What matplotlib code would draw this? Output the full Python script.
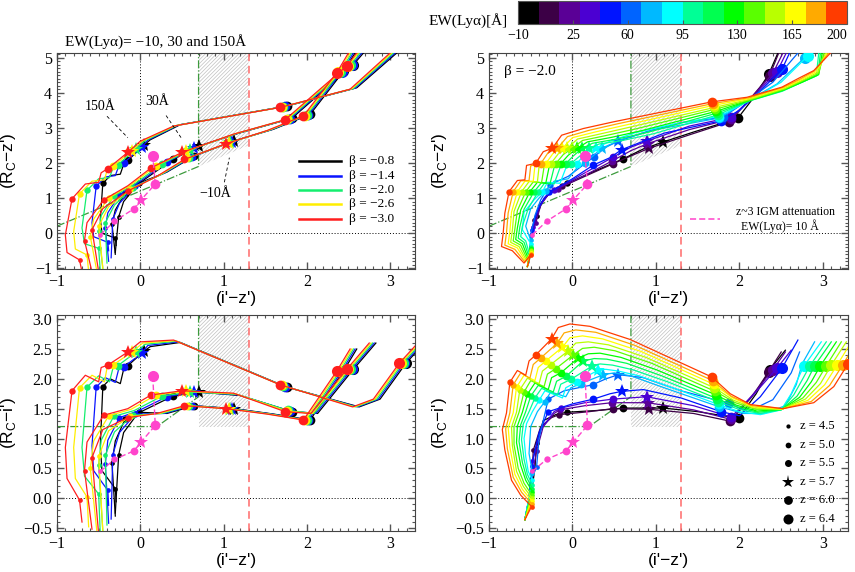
import numpy as np
import matplotlib
matplotlib.use("Agg")
import matplotlib.pyplot as plt
from matplotlib.colors import ListedColormap, Normalize
from matplotlib.cm import ScalarMappable
from matplotlib.ticker import MultipleLocator

plt.rcParams['font.family'] = ['Liberation Serif', 'DejaVu Serif']
plt.rcParams['mathtext.fontset'] = 'custom'
plt.rcParams['mathtext.rm'] = 'Liberation Sans'
plt.rcParams['hatch.linewidth'] = 0.5

# ---------------- data ----------------
z_names = ['4.5', '5.0', '5.5', '5.7', '6.0', '6.4']
beta_names = ['−0.8', '−1.4', '−2.0', '−2.6', '−3.0']
ew_ticks = [-10, 25, 60, 95, 130, 165, 200]

# z~3 IGM attenuation, EW(Lya)=10A, at z = 4.5 ... 6.4
igm_iz = [-0.48, -0.31, -0.08, 0.01, 0.18, 0.15]
igm_rz = [-0.05, 0.34, 0.69, 0.95, 1.40, 2.20]
igm_ri = [0.45, 0.65, 0.79, 0.94, 1.22, 2.04]

# top left: (i'-z', Rc-z') for beta = -0.8, -1.4, -2.0, -2.6, -3.0
tl150_x = [[-0.29, -0.30, -0.46, -0.48, -0.45, -0.36, -0.24, -0.20, -0.15, 0.05, 0.12, 0.48, 1.76, 2.60, 3.08],
           [-0.38, -0.39, -0.56, -0.58, -0.53, -0.42, -0.30, -0.26, -0.20, 0.02, 0.09, 0.46, 1.74, 2.58, 3.06],
           [-0.48, -0.50, -0.67, -0.70, -0.64, -0.50, -0.37, -0.33, -0.27, -0.05, 0.06, 0.44, 1.72, 2.56, 3.04],
           [-0.62, -0.64, -0.78, -0.80, -0.73, -0.58, -0.43, -0.40, -0.33, -0.10, 0.03, 0.42, 1.70, 2.54, 3.02],
           [-0.70, -0.73, -0.88, -0.90, -0.82, -0.66, -0.50, -0.47, -0.39, -0.15, 0.00, 0.40, 1.68, 2.52, 3.00]]
tl150_y = [[-0.35, -0.14, 0.00, 0.40, 1.42, 1.64, 1.68, 1.96, 2.07, 2.52, 2.66, 3.09, 3.62, 4.14, 5.13],
           [-0.50, -0.26, -0.10, 0.30, 1.33, 1.60, 1.64, 1.90, 2.00, 2.45, 2.65, 3.08, 3.61, 4.13, 5.13],
           [-1.10, -0.43, -0.30, 0.15, 1.22, 1.55, 1.58, 1.84, 1.95, 2.40, 2.64, 3.07, 3.60, 4.12, 5.13],
           [-1.10, -0.62, -0.45, 0.05, 1.12, 1.48, 1.52, 1.78, 1.90, 2.35, 2.63, 3.06, 3.59, 4.11, 5.13],
           [-1.10, -0.76, -0.55, -0.05, 0.98, 1.40, 1.45, 1.72, 1.84, 2.30, 2.62, 3.05, 3.58, 4.10, 5.13]]
tl150_zi = [1, 4, 8, 9, 12, -1]

tl30_x = [[-0.30, -0.34, -0.30, -0.18, 0.01, 0.39, 0.70, 1.20, 1.82, 2.18, 2.56, 2.68],
          [-0.38, -0.42, -0.39, -0.25, -0.03, 0.32, 0.64, 1.18, 1.80, 2.16, 2.54, 2.66],
          [-0.45, -0.50, -0.47, -0.32, -0.07, 0.26, 0.60, 1.16, 1.78, 2.14, 2.52, 2.64],
          [-0.52, -0.60, -0.56, -0.38, -0.11, 0.19, 0.55, 1.14, 1.76, 2.12, 2.50, 2.62],
          [-0.58, -0.67, -0.64, -0.44, -0.15, 0.13, 0.50, 1.12, 1.74, 2.10, 2.48, 2.60]]
tl30_y = [[-0.60, 0.25, 0.66, 1.15, 1.46, 2.10, 2.48, 2.86, 3.27, 4.02, 4.80, 5.13],
          [-0.80, 0.15, 0.58, 1.10, 1.43, 2.02, 2.42, 2.85, 3.26, 4.01, 4.79, 5.13],
          [-1.00, 0.05, 0.50, 1.05, 1.40, 1.97, 2.38, 2.84, 3.25, 4.00, 4.78, 5.13],
          [-1.10, -0.10, 0.40, 1.00, 1.38, 1.92, 2.34, 2.83, 3.24, 3.99, 4.77, 5.13],
          [-1.10, -0.21, 0.30, 0.95, 1.35, 1.86, 2.30, 2.82, 3.23, 3.98, 4.76, 5.13]]
tl30_zi = [1, 3, 5, 6, 8, 10]

tlm10_x = [[-0.30, -0.26, -0.20, -0.02, 0.32, 0.65, 1.13, 1.60, 2.04, 2.44, 2.58],
           [-0.35, -0.33, -0.25, -0.06, 0.29, 0.62, 1.10, 1.58, 2.02, 2.42, 2.56],
           [-0.40, -0.42, -0.31, -0.09, 0.26, 0.59, 1.08, 1.56, 2.00, 2.40, 2.54],
           [-0.45, -0.50, -0.38, -0.12, 0.23, 0.56, 1.06, 1.54, 1.98, 2.38, 2.52],
           [-0.50, -0.58, -0.45, -0.15, 0.20, 0.53, 1.03, 1.52, 1.96, 2.36, 2.50]]
tlm10_y = [[-0.55, 0.46, 0.90, 1.42, 1.74, 2.20, 2.63, 2.96, 3.38, 4.61, 5.13],
           [-0.70, 0.40, 0.85, 1.35, 1.71, 2.17, 2.61, 2.95, 3.37, 4.60, 5.13],
           [-0.85, 0.30, 0.80, 1.30, 1.68, 2.15, 2.59, 2.94, 3.36, 4.59, 5.13],
           [-1.00, 0.20, 0.75, 1.25, 1.65, 2.13, 2.57, 2.93, 3.35, 4.58, 5.13],
           [-1.10, 0.10, 0.70, 1.20, 1.62, 2.10, 2.55, 2.92, 3.34, 4.57, 5.13]]
tlm10_zi = [1, 3, 5, 6, 8, 9]

# bottom left: (i'-z', Rc-i')
bl150_x = [[-0.29, -0.30, -0.46, -0.48, -0.45, -0.36, -0.24, -0.20, -0.15, 0.05, 0.12, 0.48, 1.76, 2.63, 2.88, 3.19, 3.38],
           [-0.38, -0.39, -0.56, -0.58, -0.53, -0.42, -0.30, -0.26, -0.20, 0.02, 0.09, 0.46, 1.74, 2.61, 2.86, 3.17, 3.36],
           [-0.48, -0.50, -0.67, -0.70, -0.64, -0.50, -0.37, -0.33, -0.27, -0.05, 0.06, 0.44, 1.72, 2.59, 2.84, 3.15, 3.34],
           [-0.62, -0.64, -0.78, -0.80, -0.73, -0.58, -0.43, -0.40, -0.33, -0.10, 0.03, 0.42, 1.70, 2.57, 2.82, 3.13, 3.32],
           [-0.70, -0.73, -0.88, -0.90, -0.82, -0.66, -0.50, -0.47, -0.39, -0.15, 0.00, 0.40, 1.68, 2.55, 2.80, 3.11, 3.30]]
bl150_y = [[-0.06, 0.16, 0.46, 0.88, 1.87, 2.00, 1.92, 2.16, 2.22, 2.47, 2.54, 2.61, 1.86, 1.53, 1.66, 2.26, 2.55],
           [-0.12, 0.13, 0.46, 0.88, 1.86, 2.02, 1.94, 2.16, 2.20, 2.43, 2.56, 2.62, 1.87, 1.53, 1.66, 2.26, 2.55],
           [-0.62, 0.07, 0.37, 0.85, 1.86, 2.05, 1.95, 2.17, 2.22, 2.45, 2.58, 2.63, 1.88, 1.53, 1.66, 2.26, 2.55],
           [-0.48, 0.02, 0.33, 0.85, 1.85, 2.06, 1.95, 2.18, 2.23, 2.45, 2.60, 2.64, 1.89, 1.53, 1.66, 2.26, 2.55],
           [-0.40, -0.03, 0.33, 0.85, 1.80, 2.06, 1.95, 2.19, 2.23, 2.45, 2.62, 2.65, 1.90, 1.53, 1.66, 2.26, 2.55]]
bl150_zi = [1, 4, 8, 9, 12, 15]

bl30_x = [[-0.30, -0.34, -0.30, -0.18, 0.01, 0.39, 0.70, 1.20, 1.82, 2.13, 2.56, 2.83],
          [-0.38, -0.42, -0.39, -0.25, -0.03, 0.32, 0.64, 1.18, 1.80, 2.11, 2.54, 2.81],
          [-0.45, -0.50, -0.47, -0.32, -0.07, 0.26, 0.60, 1.16, 1.78, 2.09, 2.52, 2.79],
          [-0.52, -0.60, -0.56, -0.38, -0.11, 0.19, 0.55, 1.14, 1.76, 2.07, 2.50, 2.77],
          [-0.58, -0.67, -0.64, -0.44, -0.15, 0.13, 0.50, 1.12, 1.74, 2.05, 2.48, 2.75]]
bl30_y = [[-0.30, 0.59, 0.96, 1.33, 1.45, 1.71, 1.78, 1.72, 1.45, 1.42, 2.16, 2.60],
          [-0.42, 0.57, 0.97, 1.35, 1.46, 1.70, 1.78, 1.73, 1.46, 1.42, 2.16, 2.60],
          [-0.55, 0.55, 0.97, 1.37, 1.47, 1.71, 1.78, 1.74, 1.47, 1.42, 2.16, 2.60],
          [-0.58, 0.50, 0.96, 1.38, 1.49, 1.73, 1.79, 1.75, 1.46, 1.42, 2.16, 2.60],
          [-0.52, 0.46, 0.94, 1.39, 1.50, 1.73, 1.80, 1.76, 1.45, 1.42, 2.16, 2.60]]
bl30_zi = [1, 3, 5, 6, 8, 10]

blm10_x = [[-0.30, -0.26, -0.20, -0.02, 0.32, 0.65, 1.13, 1.60, 2.04, 2.44, 2.60],
           [-0.35, -0.33, -0.25, -0.06, 0.29, 0.62, 1.10, 1.58, 2.02, 2.42, 2.58],
           [-0.40, -0.42, -0.31, -0.09, 0.26, 0.59, 1.08, 1.56, 2.00, 2.40, 2.56],
           [-0.45, -0.50, -0.38, -0.12, 0.23, 0.56, 1.06, 1.54, 1.98, 2.38, 2.54],
           [-0.50, -0.58, -0.45, -0.15, 0.20, 0.53, 1.03, 1.52, 1.96, 2.36, 2.52]]
blm10_y = [[-0.25, 0.72, 1.10, 1.44, 1.42, 1.55, 1.50, 1.41, 1.31, 2.13, 2.50],
           [-0.35, 0.73, 1.10, 1.41, 1.42, 1.55, 1.50, 1.41, 1.31, 2.13, 2.50],
           [-0.45, 0.72, 1.11, 1.39, 1.42, 1.55, 1.50, 1.41, 1.31, 2.13, 2.50],
           [-0.55, 0.70, 1.13, 1.37, 1.42, 1.55, 1.50, 1.41, 1.31, 2.13, 2.50],
           [-0.60, 0.68, 1.15, 1.35, 1.42, 1.55, 1.50, 1.41, 1.31, 2.13, 2.50]]
blm10_zi = [1, 3, 5, 6, 8, 9]

# top right: beta=-2.0, 16 EW(Lya) values from -10 (k=0) to 200 (k=15), (i'-z', Rc-z')
tr_x = [[-0.53, -0.48, -0.43, -0.36, -0.25, -0.06, 0.20, 0.61, 0.85, 1.09, 1.45, 1.98, 2.15, 2.35, 2.46],
        [-0.53, -0.48, -0.46, -0.38, -0.28, -0.12, 0.15, 0.49, 0.70, 0.92, 1.40, 1.88, 2.10, 2.36, 2.47],
        [-0.53, -0.49, -0.44, -0.38, -0.29, -0.17, 0.15, 0.47, 0.70, 0.90, 1.40, 1.90, 2.12, 2.40, 2.52],
        [-0.53, -0.49, -0.47, -0.40, -0.31, -0.22, 0.15, 0.49, 0.70, 0.89, 1.40, 1.90, 2.15, 2.45, 2.56],
        [-0.53, -0.50, -0.49, -0.42, -0.34, -0.28, 0.00, 0.25, 0.45, 0.59, 1.10, 1.78, 2.00, 2.25, 2.51, 2.60],
        [-0.53, -0.50, -0.50, -0.45, -0.38, -0.27, -0.05, 0.26, 0.40, 0.55, 0.90, 1.30, 1.80, 2.05, 2.40, 2.70],
        [-0.53, -0.50, -0.50, -0.56, -0.50, -0.40, -0.32, -0.22, -0.05, 0.05, 0.15, 0.35, 0.60, 1.00, 1.76, 2.05, 2.45, 2.78, 2.82],
        [-0.53, -0.50, -0.50, -0.60, -0.58, -0.46, -0.36, -0.30, -0.15, -0.08, 0.05, 0.15, 0.28, 0.45, 0.75, 1.20, 1.75, 2.10, 2.50, 2.82, 2.88],
        [-0.54, -0.50, -0.51, -0.56, -0.62, -0.60, -0.53, -0.41, -0.33, -0.22, -0.15, -0.02, 0.08, 0.20, 0.32, 0.60, 0.97, 1.74, 2.11, 2.51, 2.75, 2.92, 2.95],
        [-0.54, -0.50, -0.52, -0.58, -0.65, -0.63, -0.58, -0.46, -0.37, -0.27, -0.22, -0.08, 0.01, 0.12, 0.24, 0.53, 0.90, 1.73, 2.12, 2.52, 2.75, 2.94, 2.97],
        [-0.54, -0.50, -0.53, -0.60, -0.68, -0.66, -0.62, -0.51, -0.42, -0.32, -0.28, -0.14, -0.05, 0.06, 0.18, 0.47, 0.83, 1.72, 2.12, 2.53, 2.75, 2.95, 2.99],
        [-0.54, -0.50, -0.54, -0.62, -0.71, -0.69, -0.66, -0.56, -0.47, -0.37, -0.34, -0.20, -0.11, 0.00, 0.12, 0.40, 0.76, 1.71, 2.12, 2.54, 2.74, 2.95, 3.01],
        [-0.54, -0.50, -0.55, -0.64, -0.74, -0.72, -0.70, -0.61, -0.52, -0.42, -0.40, -0.26, -0.17, -0.06, 0.06, 0.34, 0.69, 1.70, 2.12, 2.54, 2.74, 2.94, 3.03],
        [-0.54, -0.50, -0.56, -0.66, -0.77, -0.75, -0.73, -0.66, -0.57, -0.47, -0.45, -0.32, -0.23, -0.12, 0.00, 0.27, 0.62, 1.69, 2.11, 2.53, 2.73, 2.92, 3.05],
        [-0.54, -0.50, -0.57, -0.69, -0.81, -0.79, -0.77, -0.71, -0.62, -0.52, -0.50, -0.38, -0.29, -0.18, -0.06, 0.20, 0.55, 1.68, 2.10, 2.52, 2.72, 2.90, 3.07],
        [-0.54, -0.50, -0.58, -0.72, -0.85, -0.83, -0.81, -0.76, -0.66, -0.57, -0.55, -0.44, -0.35, -0.24, -0.13, 0.13, 0.49, 1.67, 2.09, 2.51, 2.70, 2.89, 3.09]]
tr_y = [[-0.90, 0.00, 0.50, 0.90, 1.20, 1.42, 1.70, 2.12, 2.40, 2.60, 2.88, 3.27, 3.80, 4.52, 5.13],
        [-0.90, 0.00, 0.38, 0.85, 1.15, 1.33, 1.62, 1.98, 2.20, 2.42, 2.80, 3.17, 3.75, 4.48, 5.13],
        [-0.90, 0.00, 0.28, 0.80, 1.10, 1.27, 1.65, 2.05, 2.35, 2.55, 2.95, 3.25, 3.80, 4.55, 5.13],
        [-0.90, -0.05, 0.18, 0.75, 1.05, 1.22, 1.72, 2.17, 2.45, 2.62, 3.05, 3.30, 3.85, 4.60, 5.13],
        [-0.90, -0.30, 0.08, 0.65, 1.00, 1.16, 1.55, 1.94, 2.15, 2.38, 2.85, 3.20, 3.50, 4.05, 4.67, 5.13],
        [-0.90, -0.40, -0.05, 0.50, 0.95, 1.38, 1.62, 2.18, 2.45, 2.62, 2.90, 3.15, 3.30, 3.70, 4.30, 5.13],
        [-0.90, -0.50, -0.20, 0.20, 0.70, 1.00, 1.20, 1.48, 1.55, 1.85, 2.00, 2.42, 2.68, 2.95, 3.28, 3.70, 4.25, 5.00, 5.13],
        [-0.90, -0.60, -0.30, 0.10, 0.60, 0.95, 1.18, 1.45, 1.42, 1.85, 1.98, 2.25, 2.42, 2.62, 2.86, 3.10, 3.32, 3.75, 4.30, 5.05, 5.13],
        [-0.95, -0.40, -0.64, -0.22, -0.10, 0.20, 0.70, 1.18, 1.44, 1.40, 1.86, 1.98, 2.18, 2.42, 2.54, 2.64, 2.83, 3.37, 3.76, 4.04, 4.30, 4.48, 5.13],
        [-0.95, -0.43, -0.68, -0.26, -0.14, 0.18, 0.68, 1.18, 1.44, 1.40, 1.87, 1.98, 2.20, 2.42, 2.56, 2.68, 2.87, 3.42, 3.77, 4.06, 4.30, 4.50, 5.13],
        [-0.95, -0.46, -0.72, -0.30, -0.18, 0.15, 0.66, 1.18, 1.45, 1.42, 1.88, 1.98, 2.22, 2.42, 2.60, 2.73, 2.92, 3.47, 3.78, 4.08, 4.30, 4.52, 5.13],
        [-0.95, -0.49, -0.75, -0.34, -0.22, 0.12, 0.64, 1.18, 1.46, 1.44, 1.89, 1.98, 2.24, 2.42, 2.64, 2.78, 2.97, 3.53, 3.79, 4.10, 4.32, 4.55, 5.13],
        [-0.95, -0.52, -0.78, -0.38, -0.26, 0.08, 0.62, 1.18, 1.47, 1.46, 1.90, 1.98, 2.26, 2.42, 2.68, 2.83, 3.02, 3.58, 3.81, 4.12, 4.34, 4.58, 5.13],
        [-0.95, -0.55, -0.80, -0.42, -0.30, 0.05, 0.60, 1.18, 1.48, 1.48, 1.91, 1.98, 2.28, 2.42, 2.72, 2.88, 3.07, 3.64, 3.83, 4.14, 4.36, 4.60, 5.13],
        [-0.95, -0.58, -0.82, -0.46, -0.34, 0.02, 0.58, 1.18, 1.49, 1.50, 1.92, 1.98, 2.30, 2.42, 2.75, 2.93, 3.12, 3.69, 3.85, 4.15, 4.38, 4.62, 5.13],
        [-0.95, -0.62, -0.85, -0.50, -0.38, 0.00, 0.57, 1.18, 1.50, 1.52, 1.93, 1.99, 2.32, 2.42, 2.79, 2.98, 3.17, 3.74, 3.87, 4.16, 4.40, 4.63, 5.13]]
tr_zi = ([[2, 5, 7, 9, 11, 13]] * 4 + [[2, 5, 7, 9, 11, 14], [2, 5, 7, 9, 12, -1],
         [2, 6, 10, 11, 14, 17], [2, 6, 10, 12, 16, 19]] + [[1, 7, 11, 13, 17, -1]] * 8)

# bottom right: beta=-2.0, (i'-z', Rc-i')
br_x = [[-0.57, -0.50, -0.45, -0.43, -0.35, -0.20, -0.07, 0.30, 0.61, 1.09, 1.50, 1.99, 2.20, 2.36, 2.55],
        [-0.57, -0.51, -0.48, -0.47, -0.38, -0.25, -0.16, 0.20, 0.48, 0.92, 1.45, 1.89, 2.15, 2.35, 2.50],
        [-0.57, -0.51, -0.46, -0.43, -0.35, -0.22, -0.15, 0.15, 0.47, 0.90, 1.45, 1.90, 2.15, 2.40, 2.55],
        [-0.57, -0.52, -0.49, -0.48, -0.38, -0.22, -0.14, 0.15, 0.48, 0.89, 1.45, 1.90, 2.18, 2.45, 2.62],
        [-0.57, -0.52, -0.50, -0.49, -0.40, -0.29, 0.00, 0.25, 0.45, 0.59, 0.85, 1.30, 1.78, 2.00, 2.25, 2.51, 2.70],
        [-0.57, -0.52, -0.50, -0.43, -0.40, -0.29, -0.10, 0.24, 0.40, 0.55, 0.85, 1.30, 1.87, 2.10, 2.40, 2.62, 2.72],
        [-0.57, -0.52, -0.48, -0.52, -0.50, -0.42, -0.33, -0.26, -0.08, -0.02, 0.10, 0.37, 0.50, 0.70, 1.10, 1.76, 2.05, 2.30, 2.55, 2.68, 2.75, 2.90],
        [-0.57, -0.48, -0.53, -0.56, -0.58, -0.55, -0.48, -0.40, -0.33, -0.12, -0.08, 0.05, 0.30, 0.40, 0.55, 0.80, 1.20, 1.75, 2.00, 2.25, 2.50, 2.62, 2.70, 2.77, 2.98],
        [-0.57, -0.48, -0.54, -0.58, -0.61, -0.59, -0.52, -0.45, -0.37, -0.18, -0.14, -0.02, 0.23, 0.33, 0.48, 0.73, 1.14, 1.74, 1.99, 2.24, 2.50, 2.65, 2.75, 2.84, 3.04],
        [-0.57, -0.48, -0.55, -0.60, -0.64, -0.62, -0.56, -0.50, -0.41, -0.23, -0.19, -0.08, 0.13, 0.26, 0.41, 0.65, 1.07, 1.73, 1.97, 2.22, 2.50, 2.69, 2.81, 2.90, 3.10],
        [-0.57, -0.48, -0.56, -0.62, -0.67, -0.66, -0.60, -0.54, -0.45, -0.29, -0.25, -0.14, 0.07, 0.19, 0.33, 0.58, 1.01, 1.72, 1.96, 2.21, 2.51, 2.72, 2.86, 2.97, 3.16],
        [-0.57, -0.49, -0.58, -0.65, -0.70, -0.70, -0.64, -0.58, -0.50, -0.34, -0.30, -0.20, 0.01, 0.12, 0.26, 0.51, 0.95, 1.71, 1.95, 2.19, 2.51, 2.76, 2.92, 3.04, 3.22],
        [-0.57, -0.49, -0.59, -0.67, -0.72, -0.73, -0.67, -0.63, -0.54, -0.40, -0.36, -0.26, -0.05, 0.04, 0.19, 0.43, 0.88, 1.70, 1.93, 2.18, 2.51, 2.79, 2.97, 3.10, 3.28],
        [-0.57, -0.49, -0.60, -0.69, -0.75, -0.77, -0.71, -0.67, -0.58, -0.45, -0.41, -0.32, -0.12, -0.03, 0.12, 0.36, 0.82, 1.69, 1.92, 2.16, 2.51, 2.82, 3.02, 3.17, 3.34],
        [-0.57, -0.49, -0.61, -0.71, -0.78, -0.80, -0.75, -0.71, -0.62, -0.51, -0.47, -0.38, -0.18, -0.10, 0.04, 0.28, 0.75, 1.68, 1.90, 2.15, 2.52, 2.86, 3.08, 3.24, 3.40],
        [-0.57, -0.49, -0.62, -0.73, -0.81, -0.84, -0.79, -0.75, -0.66, -0.56, -0.52, -0.44, -0.25, -0.17, -0.03, 0.21, 0.69, 1.67, 1.89, 2.13, 2.52, 2.89, 3.13, 3.30, 3.46]]
br_y = [[-0.36, 0.00, 0.50, 0.92, 1.30, 1.40, 1.44, 1.47, 1.51, 1.51, 1.45, 1.34, 1.75, 2.15, 2.48],
        [-0.36, 0.00, 0.50, 0.80, 1.20, 1.35, 1.40, 1.45, 1.50, 1.49, 1.42, 1.29, 1.70, 2.12, 2.45],
        [-0.36, 0.00, 0.55, 0.79, 1.20, 1.42, 1.48, 1.55, 1.60, 1.60, 1.48, 1.32, 1.72, 2.15, 2.45],
        [-0.36, 0.00, 0.45, 0.62, 1.15, 1.45, 1.51, 1.60, 1.66, 1.70, 1.55, 1.36, 1.75, 2.18, 2.48],
        [-0.36, 0.00, 0.35, 0.54, 1.10, 1.45, 1.58, 1.66, 1.75, 1.79, 1.82, 1.68, 1.45, 1.38, 1.70, 2.18, 2.65],
        [-0.36, 0.00, 0.30, 0.52, 1.00, 1.66, 1.80, 1.90, 2.00, 2.07, 2.02, 1.80, 1.59, 1.45, 1.65, 2.10, 2.45],
        [-0.36, 0.00, 0.42, 0.75, 1.20, 1.45, 1.62, 1.78, 1.70, 1.85, 1.92, 2.07, 2.10, 2.05, 1.85, 1.53, 1.42, 1.42, 1.55, 1.90, 2.25, 2.62],
        [-0.36, 0.30, 0.45, 0.70, 1.00, 1.25, 1.45, 1.64, 1.80, 1.68, 1.85, 1.95, 2.14, 2.16, 2.13, 2.05, 1.85, 1.57, 1.45, 1.40, 1.48, 1.75, 2.00, 2.21, 2.62],
        [-0.36, 0.22, 0.40, 0.65, 0.98, 1.24, 1.45, 1.68, 1.84, 1.73, 1.91, 1.99, 2.21, 2.25, 2.23, 2.15, 1.95, 1.62, 1.49, 1.42, 1.48, 1.73, 1.98, 2.21, 2.62],
        [-0.36, 0.16, 0.35, 0.60, 0.95, 1.23, 1.45, 1.71, 1.89, 1.78, 1.96, 2.04, 2.30, 2.34, 2.33, 2.26, 2.05, 1.67, 1.53, 1.44, 1.48, 1.71, 1.97, 2.22, 2.62],
        [-0.36, 0.11, 0.30, 0.55, 0.93, 1.21, 1.44, 1.74, 1.93, 1.82, 2.02, 2.10, 2.35, 2.42, 2.43, 2.36, 2.15, 1.73, 1.56, 1.46, 1.49, 1.69, 1.95, 2.22, 2.62],
        [-0.36, 0.06, 0.25, 0.50, 0.90, 1.20, 1.44, 1.78, 1.97, 1.87, 2.08, 2.17, 2.40, 2.51, 2.53, 2.47, 2.26, 1.79, 1.60, 1.49, 1.49, 1.68, 1.94, 2.22, 2.62],
        [-0.36, 0.01, 0.20, 0.45, 0.88, 1.19, 1.44, 1.82, 2.01, 1.92, 2.13, 2.24, 2.47, 2.60, 2.62, 2.57, 2.36, 1.85, 1.64, 1.51, 1.49, 1.66, 1.92, 2.23, 2.62],
        [-0.36, -0.04, 0.15, 0.40, 0.86, 1.18, 1.43, 1.86, 2.06, 1.97, 2.19, 2.30, 2.53, 2.69, 2.72, 2.67, 2.46, 1.91, 1.68, 1.53, 1.49, 1.64, 1.90, 2.23, 2.62],
        [-0.36, -0.09, 0.10, 0.35, 0.83, 1.16, 1.43, 1.90, 2.10, 2.01, 2.24, 2.35, 2.60, 2.77, 2.82, 2.78, 2.56, 1.97, 1.71, 1.55, 1.50, 1.62, 1.89, 2.24, 2.62],
        [-0.36, -0.14, 0.05, 0.30, 0.81, 1.15, 1.43, 1.94, 2.14, 2.06, 2.30, 2.40, 2.67, 2.86, 2.92, 2.88, 2.66, 2.03, 1.75, 1.57, 1.50, 1.60, 1.87, 2.25, 2.62]]
br_zi = ([[3, 6, 8, 9, 11, 13]] * 4 + [[3, 5, 7, 9, 12, 15], [3, 5, 7, 9, 12, -1],
         [2, 6, 10, 11, 15, -1]] + [[1, 7, 11, 12, 17, 23]] * 9)

# ---------------- styles ----------------
beta_colors = ['#000000', '#0a14ff', '#14ee6e', '#ffee00', '#ff1e1e']
ew_colors = ['#000000', '#3c0046', '#5a0096', '#4b00d2', '#0014ff', '#0064ff', '#00b9ff', '#00ffff',
             '#00ff96', '#00ff50', '#00ff00', '#5aff00', '#b9ff00', '#ffff00', '#ffaa00', '#ff3c00']
z_marker = ['o', 'o', 'o', '*', 'o', 'o']
z_ms = [3.4, 4.6, 5.6, 10.5, 7.0, 8.0]
pink = '#ff44cc'


def draw_track(ax, xs, ys, zi, c):
    ax.plot(xs, ys, color=c, lw=0.9, zorder=3)
    for j, i in enumerate(zi):
        if i >= 0:
            ax.plot(xs[i], ys[i], ls='none', marker=z_marker[j], ms=z_ms[j],
                    color=c, mew=0, zorder=3)


def draw_igm(ax, ys):
    ax.plot(igm_iz, ys, color=pink, lw=1.0, ls=(0, (4, 2)), zorder=4)
    for j in range(len(igm_iz)):
        ax.plot(igm_iz[j], ys[j], ls='none', marker=z_marker[j], ms=z_ms[j],
                color=pink, mew=0, zorder=4)


def setup(ax, top):
    ax.set_xlim(-1, 3.3)
    ax.xaxis.set_major_locator(MultipleLocator(1))
    ax.xaxis.set_minor_locator(MultipleLocator(0.1))
    if top:
        ax.set_ylim(-1.02, 5.13)
        ax.yaxis.set_major_locator(MultipleLocator(1))
        ax.yaxis.set_minor_locator(MultipleLocator(0.1))
        ax.set_ylabel("(R$_\\mathrm{C}$−z')", family='Liberation Sans', fontsize=12.5)
        ax.fill([0.7, 1.3, 1.3, 0.7], [1.9, 2.5, 5.3, 5.3], facecolor='none',
                edgecolor='#c0c0c0', hatch='/////////', lw=0, zorder=1)
        ax.plot([-1, 0.7, 0.7], [0.2, 1.9, 5.3], color='#3c9a3c', lw=0.9, ls='-.', zorder=2)
    else:
        ax.set_ylim(-0.55, 3.07)
        ax.yaxis.set_major_locator(MultipleLocator(0.5))
        ax.yaxis.set_minor_locator(MultipleLocator(0.1))
        ax.set_ylabel("(R$_\\mathrm{C}$−i')", family='Liberation Sans', fontsize=12.5)
        ax.fill([0.7, 1.3, 1.3, 0.7], [1.2, 1.2, 3.2, 3.2], facecolor='none',
                edgecolor='#c0c0c0', hatch='/////////', lw=0, zorder=1)
        ax.plot([-1, 0.2, 0.7, 0.7], [1.2, 1.2, 1.7, 3.2], color='#3c9a3c', lw=0.9, ls='-.', zorder=2)
    ax.set_xlabel("(i'−z')", family='Liberation Sans', fontsize=12.5)
    ax.xaxis.set_label_coords(0.5, -0.10)
    ax.yaxis.set_label_coords(-0.11, 0.5)
    ax.axvline(0, color='k', lw=0.7, ls=(0, (1, 2)), zorder=1)
    ax.axhline(0, color='k', lw=0.7, ls=(0, (1, 2)), zorder=1)
    ax.axvline(1.3, color='#ff6a6a', lw=1.1, ls=(0, (5, 3)), zorder=2)
    ax.tick_params(which='both', direction='in', top=True, right=True, colors='#555555',
                   labelcolor='black', labelsize=11.5)
    ax.tick_params(which='major', length=5, width=1)
    ax.tick_params(which='minor', length=2.5, width=0.8)
    for s in ax.spines.values():
        s.set_color('#444444')


fig = plt.figure(figsize=(8.55, 5.72), dpi=100)
ax_tl = fig.add_axes([0.0667, 0.5297, 0.4187, 0.3776])
ax_tr = fig.add_axes([0.5719, 0.5297, 0.4199, 0.3776])
ax_bl = fig.add_axes([0.0667, 0.0717, 0.4187, 0.3776])
ax_br = fig.add_axes([0.5719, 0.0717, 0.4199, 0.3776])
for ax, top in [(ax_tl, True), (ax_tr, True), (ax_bl, False), (ax_br, False)]:
    setup(ax, top)

# left panels: three EW values, five slopes
for b in range(5):
    for xs, ys, zi in [(tl150_x, tl150_y, tl150_zi), (tl30_x, tl30_y, tl30_zi), (tlm10_x, tlm10_y, tlm10_zi)]:
        draw_track(ax_tl, xs[b], ys[b], zi, beta_colors[b])
    for xs, ys, zi in [(bl150_x, bl150_y, bl150_zi), (bl30_x, bl30_y, bl30_zi), (blm10_x, blm10_y, blm10_zi)]:
        draw_track(ax_bl, xs[b], ys[b], zi, beta_colors[b])

# right panels: beta = -2.0, 16 EW values
for k in range(16):
    draw_track(ax_tr, tr_x[k], tr_y[k], tr_zi[k], ew_colors[k])
    draw_track(ax_br, br_x[k], br_y[k], br_zi[k], ew_colors[k])

for ax, ys in [(ax_tl, igm_rz), (ax_tr, igm_rz), (ax_bl, igm_ri), (ax_br, igm_ri)]:
    draw_igm(ax, ys)

# annotations top left
fig.text(65 / 855, 1 - 42 / 572, 'EW(Lyα)= −10, 30 and 150Å', fontsize=11, va='center')
for txt, tx, ty, lx, ly in [('150Å', -0.48, 3.62, [-0.40, -0.15], [3.33, 2.72]),
                            ('30Å', 0.20, 3.74, [0.31, 0.49], [3.35, 2.72]),
                            ('−10Å', 0.90, 1.14, [1.01, 1.07], [1.45, 2.15])]:
    ax_tl.text(tx, ty, txt, fontsize=10, ha='center', va='center')
    ax_tl.plot(lx, ly, color='k', lw=0.6, ls=(0, (4, 3)), zorder=5)

for b in range(5):
    yy = [0.500, 0.432, 0.366, 0.301, 0.231][b]
    ax_tl.plot([0.676, 0.793], [yy, yy], color=beta_colors[b], lw=1.8, transform=ax_tl.transAxes)
    ax_tl.text(0.815, yy, 'β = ' + beta_names[b], fontsize=9.5, va='center', transform=ax_tl.transAxes)

# top right
ax_tr.text(0.042, 0.913, 'β = −2.0', fontsize=11, va='center', transform=ax_tr.transAxes)
ax_tr.plot([0.56, 0.643], [0.231, 0.231], color=pink, lw=1.1, ls=(0, (4, 2)), transform=ax_tr.transAxes)
ax_tr.text(0.827, 0.264, 'z~3 IGM attenuation', fontsize=8.5, ha='center', va='center', transform=ax_tr.transAxes)
ax_tr.text(0.81, 0.200, 'EW(Lyα)= 10 Å', fontsize=8.5, ha='center', va='center', transform=ax_tr.transAxes)

# bottom right z legend
for j in range(6):
    yy = [0.486, 0.398, 0.316, 0.225, 0.144, 0.055][j]
    ax_br.plot(0.833, yy, marker=z_marker[j], ms=z_ms[j] * 0.9, color='k', mew=0,
               transform=ax_br.transAxes, clip_on=False)
    ax_br.text(0.866, yy, 'z = ' + z_names[j], fontsize=9, va='center', transform=ax_br.transAxes)

# colour bar
cax = fig.add_axes([518 / 855, 1 - 24 / 572, 329 / 855, 23 / 572])
sm = ScalarMappable(norm=Normalize(vmin=ew_ticks[0], vmax=ew_ticks[-1]), cmap=ListedColormap(ew_colors))
cb = fig.colorbar(sm, cax=cax, orientation='horizontal', ticks=ew_ticks)
cb.ax.tick_params(labelsize=10, length=3, direction='in', color='#555555')
cb.outline.set_edgecolor('#555555')
cb.ax.get_xticklabels()[-1].set_horizontalalignment('right')
fig.text(508 / 855, 1 - 21 / 572, 'EW(Lyα)[Å]', fontsize=11, ha='right', va='center')

fig.savefig('out.png', dpi=100)
